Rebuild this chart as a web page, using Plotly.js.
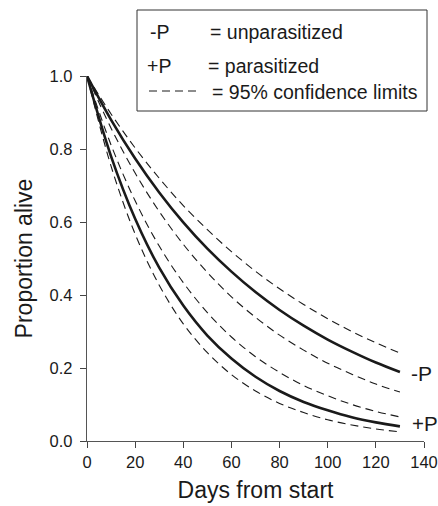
<!DOCTYPE html>
<html>
<head>
<meta charset="utf-8">
<script src="https://cdn.plot.ly/plotly-3.0.1.min.js"></script>
<style>html,body{margin:0;padding:0;background:#fff;}#chart{width:438px;height:506px;}</style>
</head>
<body>
<div id="chart"></div>
<script>
const days = [0, 10, 20, 30, 40, 50, 60, 70, 80, 90, 100, 110, 120, 130];
const unparasitized      = [1, 0.880, 0.774, 0.681, 0.599, 0.527, 0.464, 0.408, 0.359, 0.316, 0.278, 0.245, 0.215, 0.189];
const unparasitizedUpper = [1, 0.896, 0.803, 0.720, 0.645, 0.579, 0.519, 0.465, 0.417, 0.374, 0.335, 0.300, 0.269, 0.241];
const unparasitizedLower = [1, 0.857, 0.734, 0.629, 0.539, 0.462, 0.395, 0.339, 0.290, 0.249, 0.213, 0.183, 0.156, 0.134];
const parasitized        = [1, 0.780, 0.609, 0.475, 0.371, 0.289, 0.226, 0.176, 0.137, 0.107, 0.084, 0.065, 0.051, 0.040];
const parasitizedUpper   = [1, 0.811, 0.658, 0.534, 0.434, 0.352, 0.285, 0.231, 0.188, 0.152, 0.124, 0.100, 0.081, 0.066];
const parasitizedLower   = [1, 0.753, 0.567, 0.427, 0.321, 0.242, 0.182, 0.137, 0.103, 0.078, 0.058, 0.044, 0.033, 0.025];
const xTicks = [0, 20, 40, 60, 80, 100, 120, 140];
const yTicks = [0, 0.2, 0.4, 0.6, 0.8, 1.0];
const yTickText = ['0.0', '0.2', '0.4', '0.6', '0.8', '1.0'];
const endLabels = ['-P', '+P'];
const legendLines = ['-P', '= unparasitized', '+P', '= parasitized', '= 95% confidence limits'];

const FONT = 'Liberation Sans, Arial, Helvetica, sans-serif';
const INK = '#1a1a1a';

function solid(y, name) {
  return {x: days, y: y, name: name, mode: 'lines', line: {color: INK, width: 2.6, shape: 'spline'}, hoverinfo: 'skip'};
}
function dashed(y, name) {
  return {x: days, y: y, name: name, mode: 'lines', line: {color: INK, width: 1.1, dash: '8px,5px', shape: 'spline'}, hoverinfo: 'skip'};
}

const traces = [
  dashed(unparasitizedUpper, '-P upper'),
  solid(unparasitized, '-P'),
  dashed(unparasitizedLower, '-P lower'),
  dashed(parasitizedUpper, '+P upper'),
  solid(parasitized, '+P'),
  dashed(parasitizedLower, '+P lower')
];

const lastIdx = days.length - 1;
const LF = 19.5;
function legText(px, py, txt) {
  return {x: (px - 87) / 337, y: (441 - py) / 365, xref: 'paper', yref: 'paper', text: txt, showarrow: false,
          xanchor: 'left', yanchor: 'middle', borderpad: 0, font: {family: FONT, size: LF, color: INK}};
}
const annotations = [
  {x: days[lastIdx], y: unparasitized[lastIdx], xref: 'x', yref: 'y', text: endLabels[0], showarrow: false,
   xanchor: 'left', yanchor: 'middle', xshift: 9, yshift: -1, font: {family: FONT, size: 21, color: INK}},
  {x: days[lastIdx], y: parasitized[lastIdx], xref: 'x', yref: 'y', text: endLabels[1], showarrow: false,
   xanchor: 'left', yanchor: 'middle', xshift: 10, yshift: 3, font: {family: FONT, size: 20.5, color: INK}},
  legText(149, 32, legendLines[0]),
  legText(209, 32, legendLines[1]),
  legText(146, 66, legendLines[2]),
  legText(207, 66, legendLines[3]),
  legText(211, 92, legendLines[4])
];

const shapes = [
  {type: 'rect', xref: 'paper', yref: 'paper', x0: (137 - 87) / 337, x1: (427 - 87) / 337, y0: (441 - 111) / 365, y1: (441 - 10) / 365,
   line: {color: '#333', width: 1}, fillcolor: 'rgba(255,255,255,1)', layer: 'above'},
  {type: 'line', xref: 'paper', yref: 'paper', x0: (149 - 87) / 337, x1: (198 - 87) / 337, y0: (441 - 91) / 365, y1: (441 - 91) / 365,
   line: {color: INK, width: 1, dash: '8px,5px'}, layer: 'above'}
];

const layout = {
  width: 438, height: 506,
  margin: {l: 87, r: 14, t: 76, b: 65},
  paper_bgcolor: '#fff', plot_bgcolor: '#fff',
  showlegend: false,
  font: {family: FONT, color: INK},
  xaxis: {
    range: [0, 140], tickvals: xTicks, ticktext: xTicks.map(String),
    showgrid: false, zeroline: false, showline: true, linecolor: '#555', linewidth: 1.2,
    ticks: 'outside', ticklen: 6, tickcolor: '#444', tickwidth: 1,
    tickfont: {family: FONT, size: 16.5, color: INK},
    title: {text: 'Days from start', font: {family: FONT, size: 23, color: INK}, standoff: 11}
  },
  yaxis: {
    range: [0, 1], tickvals: yTicks, ticktext: yTickText,
    showgrid: false, zeroline: false, showline: true, linecolor: '#555', linewidth: 1.2,
    ticks: 'outside', ticklen: 6, tickcolor: '#444', tickwidth: 1, ticklabelstandoff: 4,
    tickfont: {family: FONT, size: 16.5, color: INK},
    title: {text: 'Proportion alive', font: {family: FONT, size: 23, color: INK}, standoff: 10}
  },
  annotations: annotations,
  shapes: shapes
};

Plotly.newPlot('chart', traces, layout, {displayModeBar: false, staticPlot: true});
</script>
</body>
</html>
